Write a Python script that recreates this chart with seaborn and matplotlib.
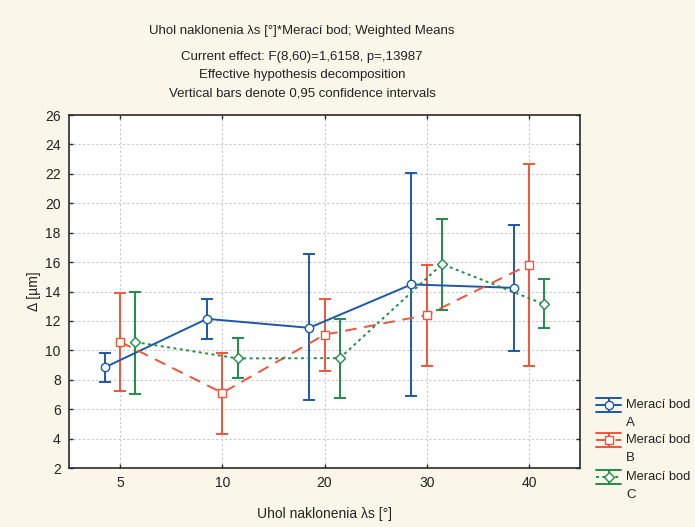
import numpy as np
import pandas as pd
import matplotlib
matplotlib.use("Agg")
import matplotlib.pyplot as plt
import seaborn as sns

# Category levels on the x axis and the measuring points (hue)
angles = ["5", "10", "20", "30", "40"]
points = ["A", "B", "C"]

# Weighted means of Δ [µm] per measuring point
mean_a = [8.84, 12.14, 11.53, 14.48, 14.25]
mean_b = [10.58, 7.11, 11.06, 12.40, 15.82]
mean_c = [10.56, 9.45, 9.47, 15.86, 13.14]

# 95 % confidence limits
low_a = [7.84, 10.80, 6.61, 6.88, 9.95]
high_a = [9.81, 13.48, 16.57, 22.08, 18.52]
low_b = [7.22, 4.32, 8.59, 8.95, 8.95]
high_b = [13.87, 9.81, 13.48, 15.82, 22.69]
low_c = [7.00, 8.11, 6.75, 12.76, 11.53]
high_c = [13.96, 10.81, 12.14, 18.90, 14.84]

means = [mean_a, mean_b, mean_c]
lows = [low_a, low_b, low_c]
highs = [high_a, high_b, high_c]

colors = ["#1C58A8", "#F0553A", "#1E8E45"]
markers = ["o", "s", "D"]
linestyles = ["-", (0, (6, 4)), (0, (1.5, 1.8))]
msizes = [6.0, 6.0, 4.6]
bg = "#FBF6EA"
font = "Liberation Sans"

rows = []
for p, m in zip(points, means):
    for a, v in zip(angles, m):
        rows.append({"angle": a, "point": p, "delta": v})
df = pd.DataFrame(rows)

sns.set_theme(style="white")
plt.rcParams["font.family"] = [font, "DejaVu Sans"]

W, H = 695, 527
fig = plt.figure(figsize=(W / 100, H / 100), dpi=100, facecolor=bg)
ax = fig.add_axes([69 / W, 1 - 468 / H, (580 - 69) / W, (468 - 115) / H])
ax.set_facecolor("white")

dodge = 0.3
offsets = np.linspace(-dodge / 2, dodge / 2, len(points))

# error bars underneath the means
for k in range(len(points)):
    x = np.arange(len(angles)) + offsets[k]
    m = np.array(means[k])
    err = np.vstack([m - np.array(lows[k]), np.array(highs[k]) - m])
    ax.errorbar(x, m, yerr=err, fmt="none", ecolor=colors[k],
                elinewidth=1.4, capsize=4.5, capthick=1.4, zorder=2)

for k, p in enumerate(points):
    sub = df[df["point"] == p]
    sns.pointplot(data=sub, x="angle", y="delta", order=angles,
                  native_scale=False, color=colors[k], markers=markers[k],
                  linestyles=linestyles[k], errorbar=None, ax=ax,
                  linewidth=1.4, markersize=msizes[k], markeredgewidth=1.0,
                  markerfacecolor="white", zorder=3)
    # shift the series horizontally (dodge)
    line = ax.lines[-1]
    line.set_xdata(np.asarray(line.get_xdata(), dtype=float) + offsets[k])

ax.set_xlim(-0.5, len(angles) - 0.5)
ax.set_ylim(2, 26)
ax.set_yticks(np.arange(2, 27, 2))
ax.set_xticks(range(len(angles)))
ax.set_xticklabels(angles)
ax.grid(True, color="#C9C9C9", linestyle=(0, (2, 2)), linewidth=0.8)
ax.set_axisbelow(True)
for s in ax.spines.values():
    s.set_color("#2A2A2A")
    s.set_linewidth(1.2)
ax.tick_params(axis="both", direction="in", length=3, width=1.0,
               color="#2A2A2A", top=True, right=True, bottom=True, left=True,
               labelsize=10, labelcolor="#222222", pad=6)
ax.set_xlabel("Uhol naklonenia λs [°]", fontsize=10, color="#222222", labelpad=12)
ax.set_ylabel("Δ [µm]", fontsize=10, color="#222222", labelpad=3)

# heading
title_lines = [
    ("Uhol naklonenia λs [°]*Merací bod; Weighted Means", 31),
    ("Current effect: F(8,60)=1,6158, p=,13987", 57),
    ("Effective hypothesis decomposition", 75),
    ("Vertical bars denote 0,95 confidence intervals", 93),
]
for t, y in title_lines:
    fig.text(302 / W, 1 - y / H, t, ha="center", va="center",
             fontsize=9.5, color="#222222")

# legend drawn in pixel coordinates at the right edge
lax = fig.add_axes([0, 0, 1, 1], facecolor="none")
lax.set_xlim(0, W)
lax.set_ylim(H, 0)
lax.axis("off")
leg_y = [405, 440, 477]
x0, x1 = 596, 621
xm = (x0 + x1) / 2
for k, p in enumerate(points):
    y = leg_y[k]
    for dy in (-7, 7):
        lax.plot([x0, x1], [y + dy, y + dy], color=colors[k], lw=1.4)
    lax.plot([xm, xm], [y - 7, y + 7], color=colors[k], lw=1.4)
    lax.plot([x0, x1], [y, y], color=colors[k], lw=1.4, linestyle=linestyles[k])
    lax.plot([xm], [y], color=colors[k], lw=0, marker=markers[k],
             markersize=msizes[k], markerfacecolor="white", markeredgewidth=1.0)
    lax.text(626, y, "Merací bod", ha="left", va="center", fontsize=9.3,
             color="#222222")
    lax.text(626, y + 18, p, ha="left", va="center", fontsize=9.5,
             color="#222222")

fig.savefig("out.png", dpi=100, facecolor=bg)
